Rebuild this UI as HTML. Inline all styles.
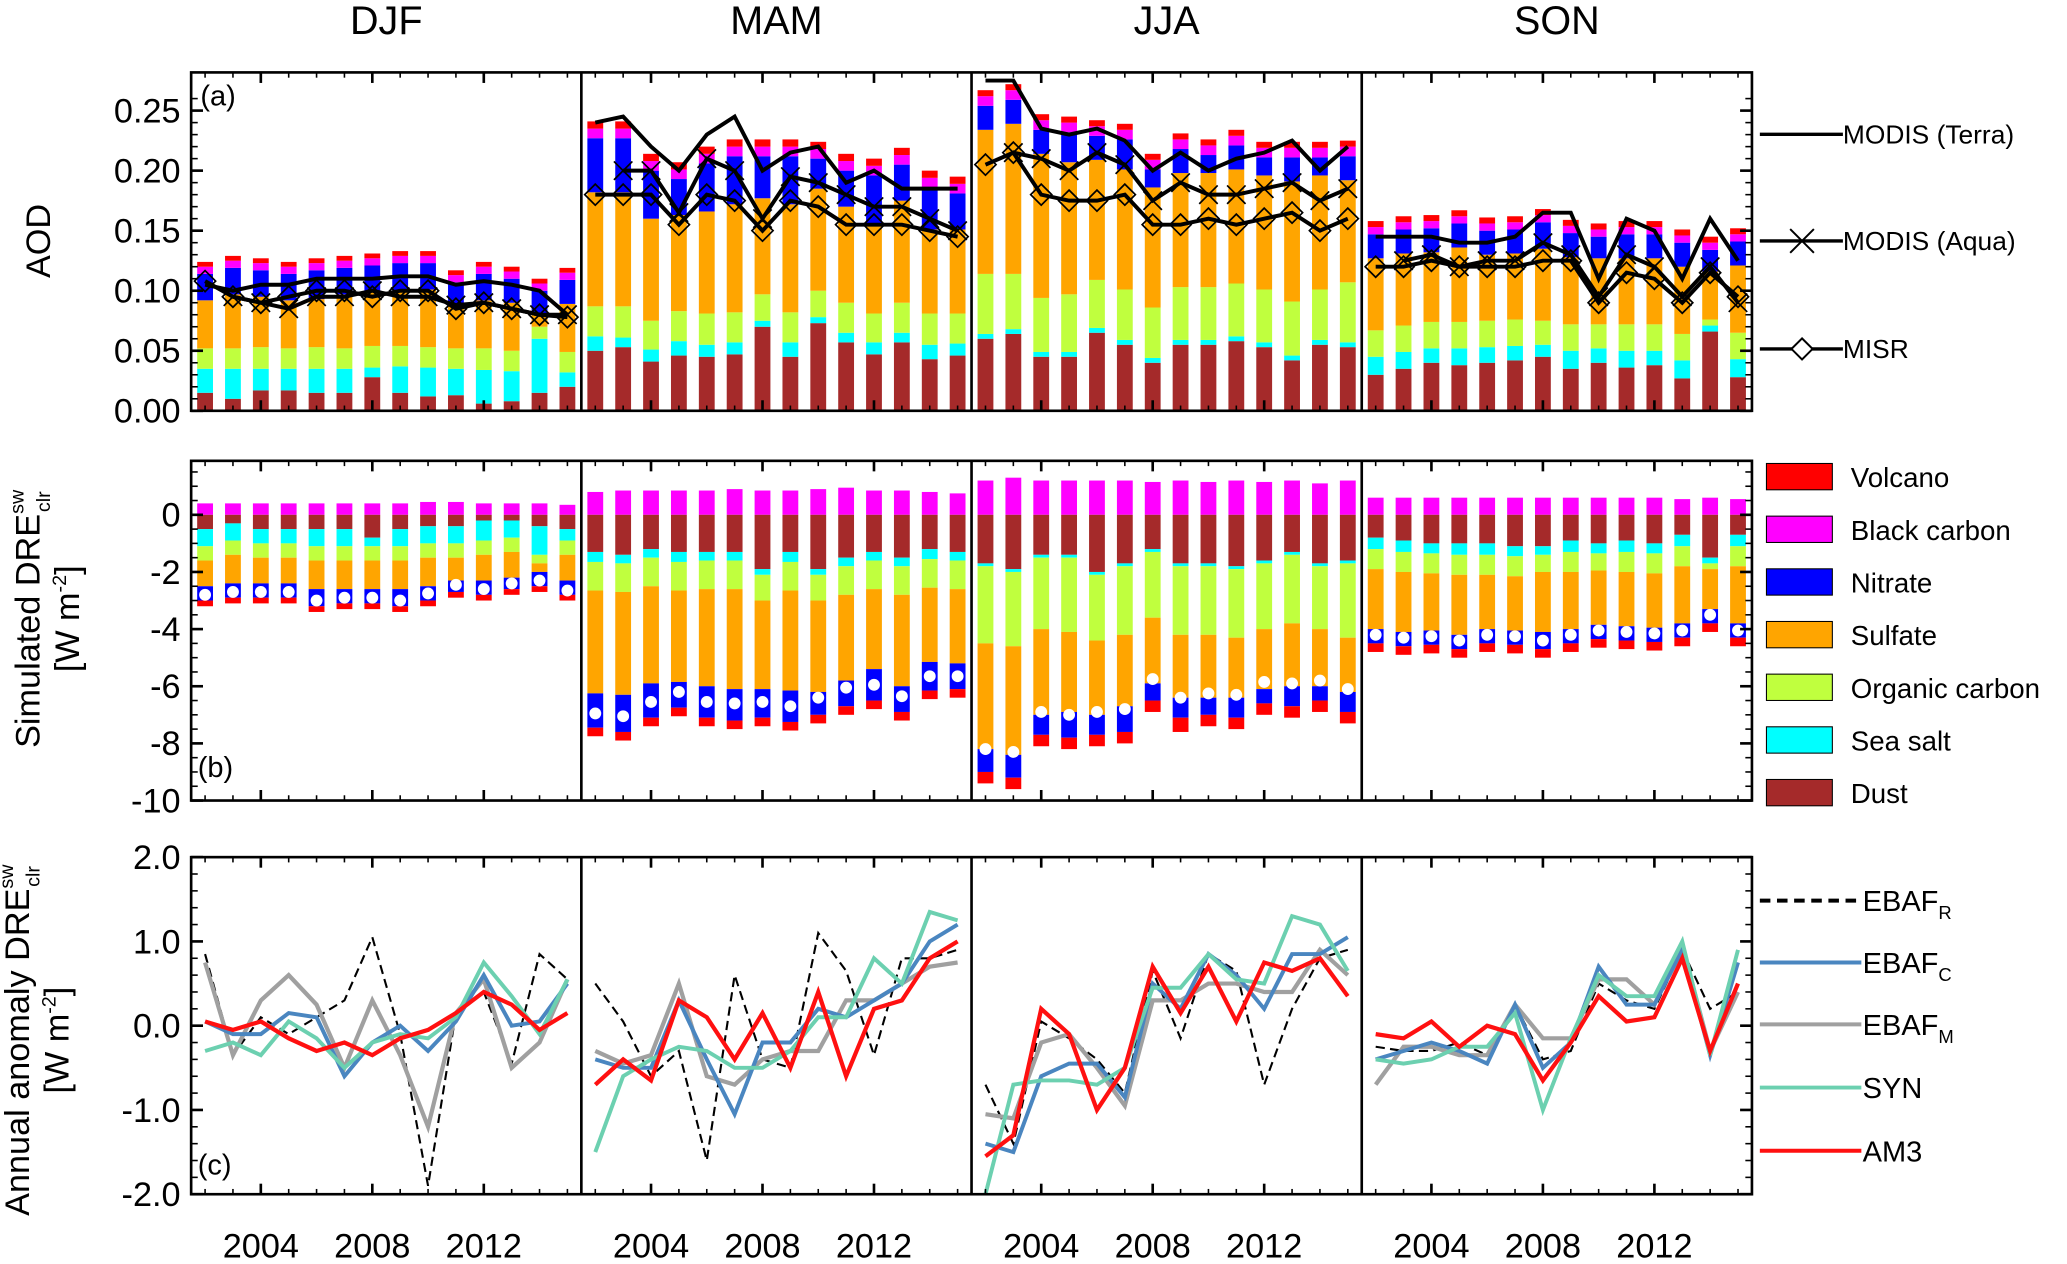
<!DOCTYPE html>
<html><head><meta charset="utf-8"><style>
html,body{margin:0;padding:0;background:#fff}
svg{display:block;font-family:"Liberation Sans",sans-serif}
</style></head><body>
<svg id="c" width="2067" height="1264" viewBox="0 0 1568 960" preserveAspectRatio="none" xmlns="http://www.w3.org/2000/svg"></svg>
<script>
const seasons=['DJF','MAM','JJA','SON'];
const years=[2002,2003,2004,2005,2006,2007,2008,2009,2010,2011,2012,2013,2014,2015];
const tickYears=[2004,2008,2012];
const aodTicks=[0,0.05,0.10,0.15,0.20,0.25];
const dreTicks=[0,-2,-4,-6,-8,-10];
const anomTicks=[2,1,0,-1,-2];
// Panel (a) AOD components
const aodDust=[[.015,.010,.017,.017,.015,.015,.028,.015,.012,.013,.006,.008,.015,.020],[.050,.053,.041,.046,.045,.047,.070,.045,.073,.057,.047,.057,.043,.046],[.060,.064,.045,.045,.065,.055,.040,.055,.055,.058,.053,.042,.055,.053],[.030,.035,.040,.038,.040,.042,.045,.035,.040,.036,.038,.027,.066,.028]];
const aodSalt=[[.020,.025,.018,.018,.020,.020,.008,.022,.024,.022,.028,.025,.045,.012],[.012,.008,.010,.012,.010,.010,.005,.012,.005,.008,.010,.008,.012,.010],[.004,.004,.004,.004,.004,.004,.004,.004,.004,.004,.004,.004,.004,.004],[.015,.014,.012,.014,.013,.012,.010,.015,.012,.014,.012,.015,.005,.015]];
const aodOC=[[.017,.017,.018,.017,.018,.017,.018,.017,.017,.017,.018,.017,.010,.017],[.025,.026,.024,.025,.026,.025,.022,.025,.022,.025,.024,.025,.026,.025],[.050,.046,.045,.048,.040,.042,.042,.044,.044,.044,.044,.045,.042,.050],[.022,.022,.022,.022,.022,.022,.020,.022,.020,.022,.022,.022,.005,.022]];
const aodSulf=[[.040,.045,.042,.040,.040,.045,.045,.045,.048,.035,.040,.040,.010,.040],[.095,.095,.085,.080,.085,.090,.080,.090,.085,.080,.075,.085,.070,.070],[.120,.125,.120,.110,.100,.100,.100,.095,.095,.095,.095,.100,.095,.085],[.060,.060,.058,.062,.055,.055,.060,.056,.055,.055,.055,.056,.040,.056]];
const aodNitr=[[.022,.022,.022,.022,.024,.022,.022,.024,.022,.020,.022,.020,.020,.020],[.045,.045,.040,.030,.040,.040,.035,.040,.025,.030,.040,.030,.035,.030],[.020,.020,.020,.025,.020,.025,.015,.020,.015,.020,.015,.020,.015,.020],[.020,.020,.020,.020,.020,.020,.022,.020,.018,.020,.020,.020,.018,.020]];
const aodBC=[[.006,.006,.006,.006,.006,.006,.006,.006,.006,.006,.006,.006,.006,.006],[.008,.008,.008,.008,.008,.008,.008,.008,.008,.008,.008,.008,.008,.008],[.008,.008,.008,.008,.008,.008,.008,.008,.008,.008,.008,.008,.008,.008],[.006,.006,.006,.006,.006,.006,.006,.006,.006,.006,.006,.006,.006,.006]];
const aodVolc=[[.004,.004,.004,.004,.004,.004,.004,.004,.004,.004,.004,.004,.004,.004],[.006,.006,.006,.006,.006,.006,.006,.006,.006,.006,.006,.006,.006,.006],[.005,.005,.005,.005,.005,.005,.005,.005,.005,.005,.005,.005,.005,.005],[.005,.005,.005,.005,.005,.005,.005,.005,.005,.005,.005,.005,.005,.005]];
const modisTerra=[[.105,.100,.105,.105,.110,.110,.110,.112,.112,.105,.108,.105,.100,.080],[.240,.245,.220,.200,.230,.245,.200,.215,.220,.190,.200,.185,.185,.185],[.275,.275,.235,.230,.235,.225,.200,.215,.200,.210,.215,.225,.200,.220],[.145,.145,.145,.140,.140,.145,.165,.165,.110,.160,.150,.110,.160,.125]];
const modisAqua=[[null,.095,.090,.085,.095,.095,.100,.095,.095,.088,.090,.085,.080,.080],[null,.200,.200,.165,.210,.200,.160,.195,.190,.180,.170,.170,.160,.150],[null,.215,.210,.200,.215,.205,.175,.190,.180,.180,.185,.190,.175,.185],[null,.125,.130,.120,.125,.125,.140,.130,.095,.130,.120,.095,.120,.090]];
const misr=[[.108,.095,.090,.095,.100,.100,.095,.100,.100,.085,.090,.085,.080,.078],[.180,.180,.180,.155,.180,.175,.150,.175,.170,.155,.155,.155,.150,.145],[.205,.215,.180,.175,.175,.180,.155,.155,.160,.155,.160,.165,.150,.160],[.120,.120,.125,.120,.120,.120,.125,.125,.090,.115,.110,.090,.115,.095]];
// Panel (b) DRE components (magnitudes, W m-2)
const dreBC=[[.4,.4,.4,.4,.4,.4,.4,.4,.45,.45,.4,.4,.4,.35],[.8,.85,.85,.85,.85,.9,.85,.85,.9,.95,.85,.85,.8,.75],[1.2,1.3,1.2,1.2,1.2,1.2,1.15,1.2,1.15,1.2,1.15,1.2,1.1,1.2],[.6,.6,.6,.6,.6,.6,.6,.6,.6,.6,.6,.55,.6,.55]];
const dreDust=[[.5,.3,.5,.5,.5,.5,.8,.5,.4,.4,.2,.2,.4,.5],[1.3,1.4,1.2,1.3,1.3,1.3,1.9,1.3,1.9,1.5,1.3,1.5,1.2,1.3],[1.7,1.9,1.4,1.4,2.0,1.7,1.2,1.7,1.7,1.8,1.6,1.3,1.7,1.6],[.8,.9,1.0,1.0,1.0,1.1,1.1,.9,1.0,.9,1.0,.7,1.5,.7]];
const dreSalt=[[.6,.6,.5,.5,.6,.6,.3,.6,.6,.6,.7,.6,1.0,.4],[.35,.3,.3,.35,.3,.3,.2,.35,.2,.3,.3,.3,.35,.3],[.1,.1,.1,.1,.1,.1,.1,.1,.1,.1,.1,.1,.1,.1],[.4,.4,.35,.4,.4,.35,.3,.4,.35,.4,.35,.4,.2,.4]];
const dreOC=[[.5,.5,.5,.5,.5,.5,.5,.5,.5,.5,.5,.5,.3,.5],[1.0,1.0,1.0,1.0,1.0,1.0,.9,1.0,.9,1.0,1.0,1.0,1.0,1.0],[2.7,2.6,2.5,2.6,2.3,2.4,2.3,2.4,2.4,2.4,2.3,2.4,2.2,2.6],[.7,.7,.7,.7,.7,.7,.6,.7,.6,.7,.7,.7,.2,.7]];
const dreSulf=[[.9,1.0,.9,.9,1.0,1.0,1.0,1.0,1.0,.8,.9,.9,.3,.9],[3.6,3.6,3.4,3.2,3.4,3.5,3.1,3.5,3.2,3.0,2.8,3.2,2.6,2.6],[3.7,3.8,3.0,2.8,2.6,2.5,2.3,2.2,2.2,2.1,2.1,2.2,2.0,1.9],[2.1,2.1,2.0,2.1,1.9,1.9,2.1,2.0,1.9,1.9,1.9,2.0,1.4,2.0]];
const dreNitr=[[.5,.5,.5,.5,.6,.5,.5,.6,.5,.4,.5,.4,.5,.5],[1.2,1.3,1.2,.9,1.1,1.1,1.0,1.1,.8,.9,1.1,.9,1.0,.9],[.8,.8,.7,.9,.7,.9,.6,.7,.6,.7,.5,.7,.5,.7],[.5,.5,.5,.5,.5,.5,.6,.5,.5,.5,.5,.5,.5,.5]];
const dreVolc=[[.2,.2,.2,.2,.2,.2,.2,.2,.2,.2,.2,.2,.2,.2],[.3,.3,.3,.3,.3,.3,.3,.3,.3,.3,.3,.3,.3,.3],[.4,.4,.4,.4,.4,.4,.4,.5,.4,.4,.4,.4,.4,.4],[.3,.3,.3,.3,.3,.3,.3,.3,.3,.3,.3,.3,.3,.3]];
// Panel (c) anomalies
const ebafR=[[.85,-.35,.1,-.1,.1,.3,1.05,-.1,-1.9,.15,.4,-.45,.85,.55],[.5,.05,-.6,-.3,-1.6,.6,-.4,-.5,1.1,.65,-.35,.8,.8,.9],[-.7,-1.4,.05,-.15,-.4,-.8,.65,-.15,.85,.65,-.7,.2,.8,.9],[-.25,-.3,-.3,-.2,-.35,.25,-.4,-.3,.5,.3,.2,.9,.2,.4]];
const ebafC=[[.05,-.1,-.1,.15,.1,-.6,-.2,0,-.3,.05,.6,0,.05,.5],[-.4,-.5,-.5,.3,-.4,-1.05,-.2,-.2,.2,.1,.3,.5,1.0,1.2],[-1.4,-1.5,-.6,-.45,-.45,-.85,.5,.2,.85,.6,.2,.85,.85,1.05],[-.4,-.3,-.2,-.3,-.45,.25,-.5,-.2,.7,.25,.25,.9,-.35,.75]];
const ebafM=[[.75,-.35,.3,.6,.25,-.5,.3,-.35,-1.2,.15,.55,-.5,-.2,.55],[-.3,-.45,-.35,.5,-.6,-.7,-.4,-.3,-.3,.3,.3,.5,.7,.75],[-1.05,-1.1,-.2,-.1,-.5,-.95,.3,.3,.5,.5,.4,.4,.9,.6],[-.7,-.25,-.25,-.35,-.35,.25,-.15,-.15,.55,.55,.25,.95,-.3,.4]];
const syn=[[-.3,-.2,-.35,.05,-.15,-.5,-.2,-.1,-.15,.1,.75,.35,-.1,.55],[-1.5,-.6,-.4,-.25,-.3,-.5,-.5,-.3,.1,.1,.8,.5,1.35,1.25],[-2.0,-.7,-.65,-.65,-.7,-.5,.45,.45,.85,.55,.5,1.3,1.2,.65],[-.4,-.45,-.4,-.25,-.25,.15,-1.0,-.15,.6,.35,.35,1.0,-.35,.9]];
const am3=[[.05,-.05,.05,-.15,-.3,-.2,-.35,-.15,-.05,.15,.4,.25,-.05,.15],[-.7,-.4,-.65,.3,.1,-.4,.15,-.5,.4,-.6,.2,.3,.8,1.0],[-1.55,-1.3,.2,-.1,-1.0,-.5,.7,.15,.7,.05,.75,.65,.8,.35],[-.1,-.15,.05,-.25,0,-.1,-.65,-.2,.35,.05,.1,.8,-.3,.5]];

const NS='http://www.w3.org/2000/svg';
const svg=document.getElementById('c');
function mk(tag,attrs,parent){const e=document.createElementNS(NS,tag);for(const k in attrs)e.setAttribute(k,attrs[k]);(parent||svg).appendChild(e);return e;}
const PL=145,PW=296;
const rows={a:{top:55,bot:312},b:{top:350,bot:608},c:{top:651,bot:907}};
function xYear(s,i){return PL+s*PW+(i+0.5)*PW/14;}
function yA(v){return 312-v*(228/0.25);}
function yB(v){return 391+(-v)*21.7;}
function yC(v){return 779-v*64;}
const cols={volc:'#ff0000',bc:'#ff00ff',ni:'#0000ff',su:'#ffa500',oc:'#c0ff3e',ss:'#00ffff',du:'#a52a2a'};
const BW=12;
function rect(x,y1,y2,fill,name){if(Math.abs(y2-y1)<0.01)return;const r=mk('rect',{x:x-BW/2,y:Math.min(y1,y2),width:BW,height:Math.abs(y2-y1),fill:fill});

}

for(let s=0;s<4;s++){
  const t=mk('text',{x:PL+s*PW+PW/2,y:26,'font-size':30,'text-anchor':'middle'});t.textContent=seasons[s];
  
  
  for(let i=0;i<14;i++){
    const x=xYear(s,i);let c=0;
    const comps=[[aodDust,cols.du,'dust'],[aodSalt,cols.ss,'sea-salt'],[aodOC,cols.oc,'organic-carbon'],[aodSulf,cols.su,'sulfate'],[aodNitr,cols.ni,'nitrate'],[aodBC,cols.bc,'black-carbon'],[aodVolc,cols.volc,'volcano']];
    for(const [arr,col,n] of comps){const v=arr[s][i];rect(x,yA(c),yA(c+v),col,'aod-bar-'+n);c+=v;}
  }
  for(let i=0;i<14;i++){
    const x=xYear(s,i);
    rect(x,yB(0),yB(dreBC[s][i]),cols.bc,'dre-bar-black-carbon');
    let c=0;
    const comps=[[dreDust,cols.du,'dust'],[dreSalt,cols.ss,'sea-salt'],[dreOC,cols.oc,'organic-carbon'],[dreSulf,cols.su,'sulfate'],[dreNitr,cols.ni,'nitrate'],[dreVolc,cols.volc,'volcano']];
    for(const [arr,col,n] of comps){const v=arr[s][i];rect(x,yB(-c),yB(-c-v),col,'dre-bar-'+n);c+=v;}
    const net=dreBC[s][i]-c;
    const d=mk('circle',{cx:x,cy:yB(net),r:4.5,fill:'#fff'});
    
    
  }
  const lineA=(arr,name,marker)=>{
    let pts=[];arr[s].forEach((v,i)=>{if(v!==null)pts.push([xYear(s,i),yA(v)]);});
    const p=mk('polyline',{points:pts.map(p=>p.join(',')).join(' '),fill:'none',stroke:'#000','stroke-width':3});
    
    
    pts.forEach(([x,y])=>{
      if(marker==='x'){const m=mk('path',{d:`M${x-7},${y-7}L${x+7},${y+7}M${x-7},${y+7}L${x+7},${y-7}`,stroke:'#000','stroke-width':1.3,fill:'none'});
        
        }
      if(marker==='d'){const m=mk('path',{d:`M${x},${y-8}L${x+8},${y}L${x},${y+8}L${x-8},${y}Z`,stroke:'#000','stroke-width':1.3,fill:'none'});
        
        }
    });
  };
  lineA(modisTerra,'modis-terra-line',null);
  lineA(modisAqua,'modis-aqua-line','x');
  lineA(misr,'misr-line','d');
  const lineC=(arr,col,w,dash,name)=>{
    const pts=arr[s].map((v,i)=>xYear(s,i)+','+yC(v)).join(' ');
    const a={points:pts,fill:'none',stroke:col,'stroke-width':w};if(dash)a['stroke-dasharray']=dash;
    const p=mk('polyline',a);
    
    
  };
  lineC(ebafR,'#000',1.6,'7,4','ebaf-r-line');
  lineC(ebafM,'#a0a0a0',3.2,null,'ebaf-m-line');
  lineC(ebafC,'#4a86c0',3,null,'ebaf-c-line');
  lineC(syn,'#6cd0b0',3,null,'syn-line');
  lineC(am3,'#ff1010',3.2,null,'am3-line');
  for(const r of ['a','b','c']){
    for(let i=0;i<14;i++){const x=xYear(s,i);const big=tickYears.includes(years[i]);const L=big?8:4;
      mk('line',{x1:x,x2:x,y1:rows[r].bot,y2:rows[r].bot-L,stroke:'#000','stroke-width':big?2:1.2});
      mk('line',{x1:x,x2:x,y1:rows[r].top,y2:rows[r].top+L,stroke:'#000','stroke-width':big?2:1.2});}
  }
  tickYears.forEach(y=>{const i=years.indexOf(y);const t=mk('text',{x:xYear(s,i),y:955,'font-size':26,'text-anchor':'middle'});t.textContent=y;
    
    });
}
for(const r of ['a','b','c']){
  const f=mk('rect',{x:PL,y:rows[r].top,width:PW*4,height:rows[r].bot-rows[r].top,fill:'none',stroke:'#000','stroke-width':2});
  
  
  for(let s=1;s<4;s++)mk('line',{x1:PL+s*PW,x2:PL+s*PW,y1:rows[r].top,y2:rows[r].bot,stroke:'#000','stroke-width':2});
}
function yticks(vals,fn,fmt,minorStep,lo,hi){
  vals.forEach(v=>{const y=fn(v);
    for(const [x,d] of [[PL,1],[PL+4*PW,-1]])mk('line',{x1:x,x2:x+d*9,y1:y,y2:y,stroke:'#000','stroke-width':2});
    const t=mk('text',{x:PL-8,y:y+9,'font-size':26,'text-anchor':'end'});t.textContent=fmt(v);
    
    });
  for(let v=lo;v<=hi+1e-9;v+=minorStep){const y=fn(v);for(const [x,d] of [[PL,1],[PL+4*PW,-1]])mk('line',{x1:x,x2:x+d*5,y1:y,y2:y,stroke:'#000','stroke-width':1.2});}
}
yticks(aodTicks,yA,v=>v.toFixed(2),0.01,0,0.26);
yticks(dreTicks,yB,v=>String(v),0.5,-10,1.5);
yticks(anomTicks,yC,v=>v.toFixed(1),0.2,-2,2);
[['(a)',152,80],['(b)',150,590],['(c)',150,892]].forEach(([s,x,y])=>{const t=mk('text',{x,y,'font-size':22});t.textContent=s;
  
  });
function ytitle(x,y,html,name){const t=mk('text',{x:0,y:0,'font-size':26,'text-anchor':'middle',transform:`translate(${x},${y}) rotate(-90)`});t.innerHTML=html;
  
  }
ytitle(38,183,'AOD','y-axis-title-aod');
ytitle(30,470,'Simulated DRE<tspan font-size="15" dy="-12">sw</tspan><tspan font-size="15" dx="-17" dy="20">clr</tspan>','y-axis-title-dre');
ytitle(60,470,'[W m<tspan font-size="15" dy="-10">-2</tspan><tspan dy="10">]</tspan>','y-axis-units-dre');
ytitle(22,790,'Annual anomaly DRE<tspan font-size="15" dy="-12">sw</tspan><tspan font-size="15" dx="-17" dy="20">clr</tspan>','y-axis-title-anomaly');
ytitle(52,790,'[W m<tspan font-size="15" dy="-10">-2</tspan><tspan dy="10">]</tspan>','y-axis-units-anomaly');
const LX=1335;
[['MODIS (Terra)',102,null],['MODIS (Aqua)',183,'x'],['MISR',265,'d']].forEach(([lab,y,m])=>{
  const g=mk('g',{});
  
  
  mk('line',{x1:LX,x2:1398,y1:y,y2:y,stroke:'#000','stroke-width':2.5},g);
  const cx=1367;
  if(m==='x')mk('path',{d:`M${cx-9},${y-9}L${cx+9},${y+9}M${cx-9},${y+9}L${cx+9},${y-9}`,stroke:'#000','stroke-width':1.5},g);
  if(m==='d')mk('path',{d:`M${cx},${y-8}L${cx+8},${y}L${cx},${y+8}L${cx-8},${y}Z`,stroke:'#000','stroke-width':1.5,fill:'#fff'},g);
  const t=mk('text',{x:1398,y:y+7,'font-size':20},g);t.textContent=lab;
});
[['Volcano',cols.volc],['Black carbon',cols.bc],['Nitrate',cols.ni],['Sulfate',cols.su],['Organic carbon',cols.oc],['Sea salt',cols.ss],['Dust',cols.du]].forEach(([lab,col],k)=>{
  const y=362+k*40;const g=mk('g',{});
  
  
  mk('rect',{x:1340,y:y-10,width:50,height:20,fill:col,stroke:'#000','stroke-width':0.8},g);
  const t=mk('text',{x:1404,y:y+8,'font-size':21},g);t.textContent=lab;
});
[['EBAF','R','#000','8,5',684],['EBAF','C','#4a86c0',null,731],['EBAF','M','#a0a0a0',null,778],['SYN','','#6cd0b0',null,826],['AM3','','#ff1010',null,874]].forEach(([lab,sub,col,dash,y])=>{
  const g=mk('g',{});
  
  
  const a={x1:1335,x2:1412,y1:y,y2:y,stroke:col,'stroke-width':3};if(dash)a['stroke-dasharray']=dash;
  mk('line',a,g);
  const t=mk('text',{x:1413,y:y+8,'font-size':22},g);t.innerHTML=lab+(sub?`<tspan font-size="14" dy="6">${sub}</tspan>`:'');
});
</script>
</body></html>
